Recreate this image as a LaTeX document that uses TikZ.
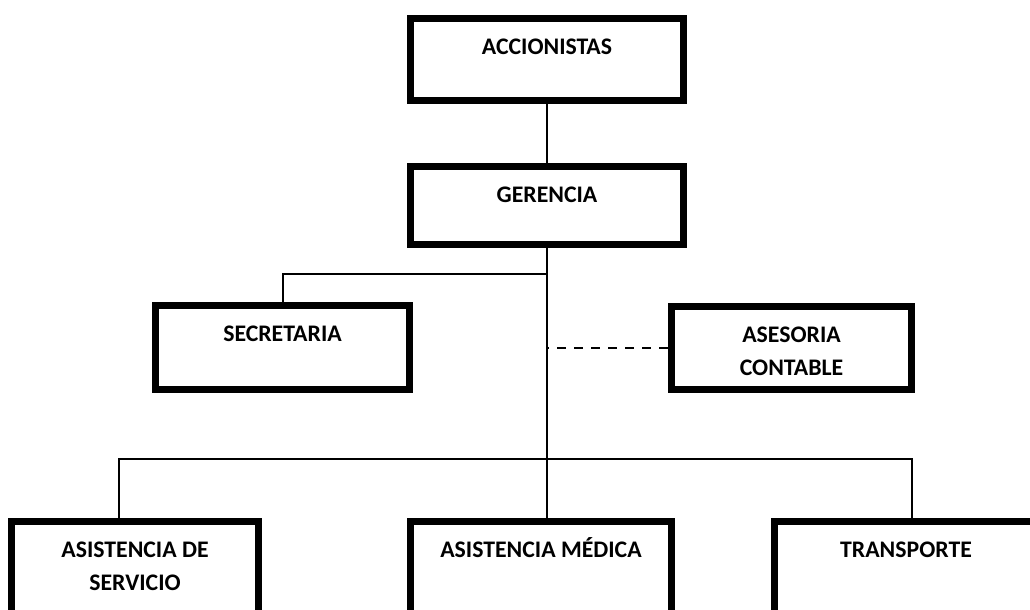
\documentclass[tikz,border=0pt]{standalone}
\usepackage{fontspec}
\setmainfont{Carlito}
\usepackage{xcolor}

% cuadro con el texto arriba: ancho, alto, texto
\newcommand{\cuadro}[3]{\parbox[c][#2][t]{#1}{\centering\vspace*{0.325cm}\strut #3}}

\begin{document}
\begin{tikzpicture}[
    x=0.025cm, y=-0.025cm,
    caja/.style={draw, line width=0.175cm, inner sep=0pt,
        font=\fontsize{16.9}{23.5}\selectfont\bfseries},
    linea/.style={line width=0.05cm},
    punteada/.style={line width=0.05cm, dash pattern=on 0.225cm off 0.2cm}
]

\path[use as bounding box, clip] (0,0) rectangle (1030,610);

\node[caja] (acc) at (547,59.5) {\cuadro{6.825cm}{2.05cm}{ACCIONISTAS}};
\node[caja] (ger) at (547,205.5) {\cuadro{6.825cm}{1.95cm}{GERENCIA}};
\node[caja] (sec) at (282.5,347.5) {\cuadro{6.35cm}{2.1cm}{SECRETARIA}};
\node[caja] (ase) at (791.5,348) {\cuadro{6cm}{2.075cm}{ASESORIA\\CONTABLE}};
\node[caja] (serv) at (135,586.5) {\cuadro{6.175cm}{3.25cm}{ASISTENCIA DE\\SERVICIO}};
\node[caja] (med) at (541,586.5) {\cuadro{6.525cm}{3.25cm}{ASISTENCIA MÉDICA}};
\node[caja] (tra) at (906,586.5) {\cuadro{6.575cm}{3.25cm}{TRANSPORTE}};

\coordinate (rsec) at (547,274);
\coordinate (rserv) at (119,459);
\coordinate (rtra) at (912,459);

\draw[linea] (acc) -- (ger);
\draw[linea] (ger) -- (ger |- med.north);
\draw[linea] (rsec) -| (sec);
\draw[punteada] (ase) -- (ase -| ger);
\draw[linea] (rserv |- serv.north) -- (rserv) -- (rtra) -- (rtra |- tra.north);

\end{tikzpicture}
\end{document}
